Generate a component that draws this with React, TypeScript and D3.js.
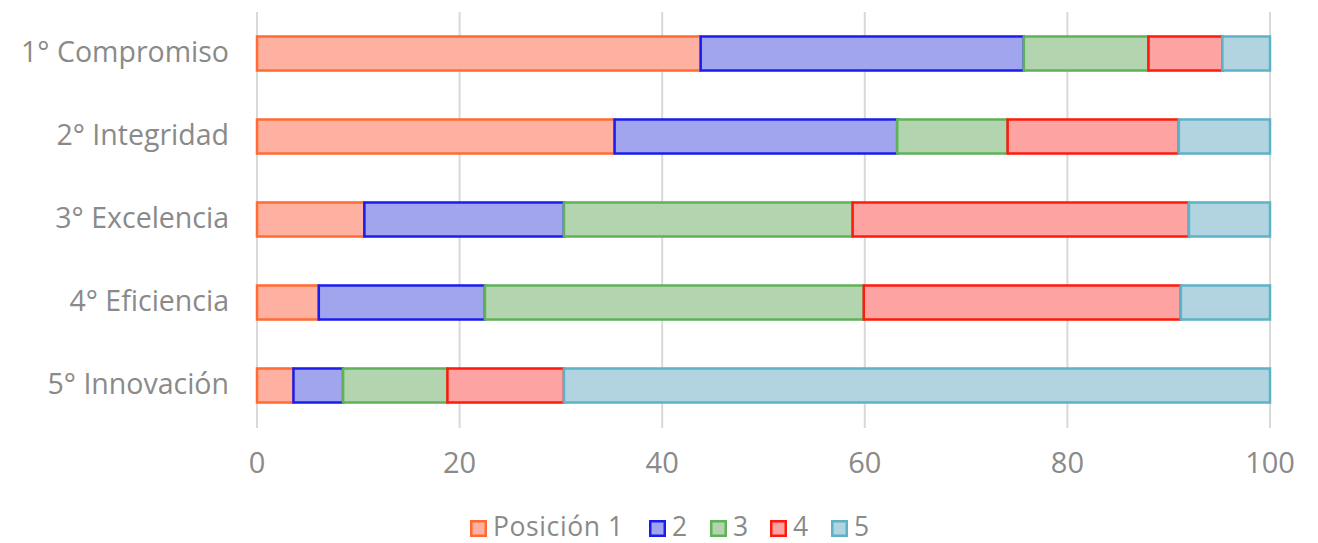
import React from "react";
import * as d3 from "d3";

const categories = ["1° Compromiso", "2° Integridad", "3° Excelencia", "4° Eficiencia", "5° Innovación"];
const seriesNames = ["Posición 1", "2", "3", "4", "5"];
const pos1 = [43.8, 35.3, 10.6, 6.1, 3.6];
const pos2 = [31.9, 27.9, 19.7, 16.4, 4.9];
const pos3 = [12.3, 10.9, 28.5, 37.4, 10.3];
const pos4 = [7.3, 16.9, 33.2, 31.3, 11.5];
const pos5 = [4.7, 9.0, 8.0, 8.8, 69.7];
const xTicks = [0, 20, 40, 60, 80, 100];

const fills = ["#ffb1a1", "#a1a5ee", "#b2d4ae", "#fda3a1", "#b1d4e0"];
const strokes = ["#ff6b33", "#1c1ced", "#5fb25a", "#ff1a0d", "#5db2c8"];

const W = 1318;
const H = 543;
const FONT = "'Open Sans', 'Noto Sans', sans-serif";
const TEXT = "#8a8a8a";

export default function App() {
  const series = [pos1, pos2, pos3, pos4, pos5];
  const rows = categories.map((c, i) => {
    const r: any = { cat: c };
    seriesNames.forEach((s, j) => (r[s] = series[j][i]));
    return r;
  });
  const stacked = d3.stack<any>().keys(seriesNames)(rows);

  const x = d3.scaleLinear().domain([0, 100]).range([257, 1270]);
  const y = d3.scaleBand().domain(categories).range([12, 427]).paddingInner(0.59).paddingOuter(0.295);

  const legendX = [470, 649, 710, 770, 831];

  return (
    <svg width={W} height={H} style={{ position: "absolute", left: 0, top: 0, background: "#fff" }}>
      <rect width={W} height={H} fill="#fff" />
      {xTicks.map((t) => (
        <line key={t} x1={x(t)} x2={x(t)} y1={12} y2={428} stroke="#d9d9d9" strokeWidth={2} />
      ))}
      {stacked.map((s, j) => (
        <g key={s.key}>
          {s.map((d, i) => (
            <rect
              key={i}
              x={x(d[0])}
              y={y(categories[i])!}
              width={x(d[1]) - x(d[0])}
              height={y.bandwidth()}
              fill={fills[j]}
              stroke={strokes[j]}
              strokeWidth={2.5}
            />
          ))}
        </g>
      ))}
      {categories.map((c) => (
        <text
          key={c}
          x={229}
          y={y(c)! + y.bandwidth() / 2 + 8.5}
          textAnchor="end"
          fontFamily={FONT}
          fontSize={28.5}
          fill={TEXT}
        >
          {c}
        </text>
      ))}
      {xTicks.map((t) => (
        <text
          key={t}
          x={x(t)}
          y={473}
          textAnchor="middle"
          fontFamily={FONT}
          fontSize={29}
          fill={TEXT}
        >
          {t}
        </text>
      ))}
      {seriesNames.map((s, j) => (
        <g key={s}>
          <rect
            x={legendX[j] + 1.25}
            y={521.25}
            width={14.5}
            height={14.5}
            fill={fills[j]}
            stroke={strokes[j]}
            strokeWidth={2.5}
          />
          <text
            x={legendX[j] + 23}
            y={536}
            fontFamily={FONT}
            fontSize={26.5}
            letterSpacing={0.6}
            fill={TEXT}
          >
            {s}
          </text>
        </g>
      ))}
    </svg>
  );
}
